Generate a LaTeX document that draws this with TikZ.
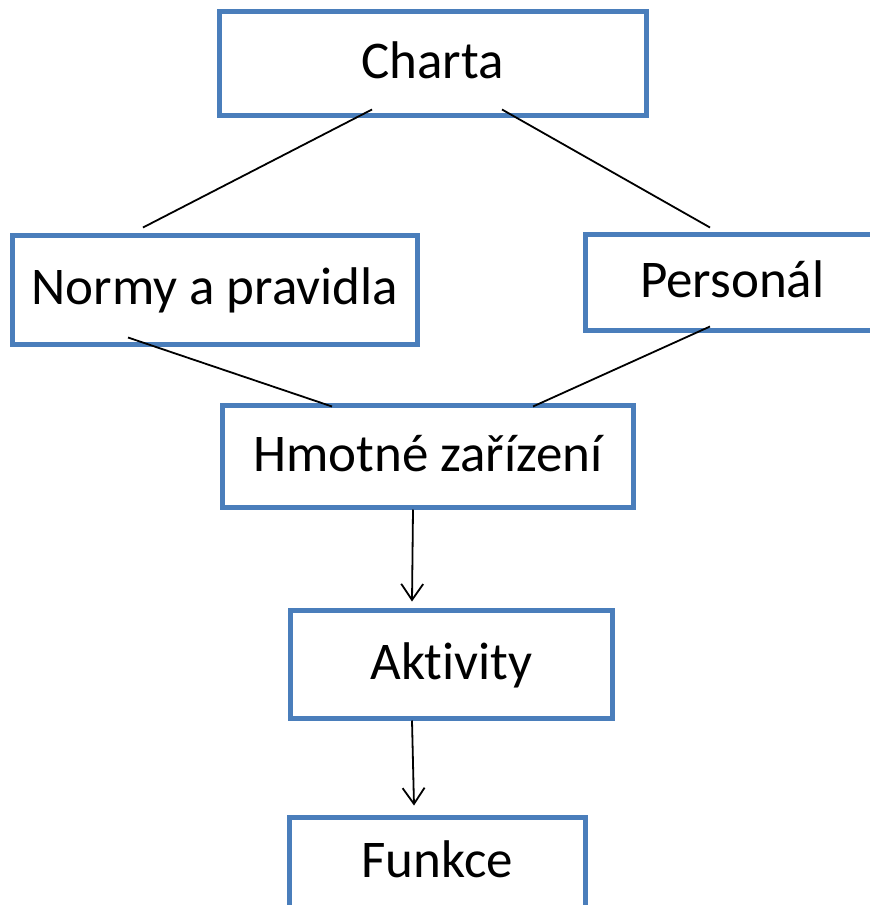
\documentclass[tikz,border=0pt]{standalone}
\usepackage{fontspec}
\setmainfont[Ligatures=NoCommon]{Carlito}
\usetikzlibrary{calc,arrows.meta}
\definecolor{boxblue}{RGB}{74,126,187}
\tikzset{
  box/.style={draw=boxblue, line width=5pt, fill=white, rectangle, inner sep=0pt,
    font=\fontsize{53}{61}\selectfont, text height=34pt, text depth=4pt, align=center},
  conn/.style={draw=black, line width=1.8pt},
  arr/.style={conn, -{Straight Barb[length=16pt,width=22pt,line width=1.8pt]}}
}
\begin{document}
\begin{tikzpicture}[x=1pt,y=-1pt]
\useasboundingbox (0,0) rectangle (870,905);
\begin{scope}
\clip (0,0) rectangle (870,905);
\node[box, minimum width=427pt, minimum height=104pt] (charta) at (432.5,63) {Charta};
\node[box, minimum width=404.5pt, minimum height=109.5pt] (normy) at (214.75,289.75) {Normy a pravidla};
\node[box, minimum width=293.5pt, minimum height=96.5pt] (personal) at (732.25,282.25) {Personál};
\node[box, minimum width=411pt, minimum height=101.5pt] (hmotne) at (428,456.25) {Hmotné zařízení};
\node[box, minimum width=322pt, minimum height=108pt] (aktivity) at (451.5,664) {Aktivity};
\node[box, minimum width=296pt, minimum height=90pt] (funkce) at (437.5,862.5) {Funkce};

\draw[conn] ($(charta.south)+(-60.5,-8)$) -- ($(normy.north)+(-71.75,-5)$);
\draw[conn] ($(charta.south)+(69.5,-8)$) -- ($(personal.north)+(-22.25,-4)$);
\draw[conn] ($(normy.south)+(-86.75,-9.5)$) -- ($(hmotne.north)+(-96,3.5)$);
\draw[conn] ($(personal.south)+(-22.25,-6.5)$) -- ($(hmotne.north)+(105,3.5)$);
\draw[arr] ($(hmotne.south)+(-15,0)$) -- ($(aktivity.north)+(-39.5,-6)$);
\draw[arr] ($(aktivity.south)+(-39.5,0)$) -- ($(funkce.north)+(-23.5,-9.5)$);
\end{scope}
\end{tikzpicture}
\end{document}
